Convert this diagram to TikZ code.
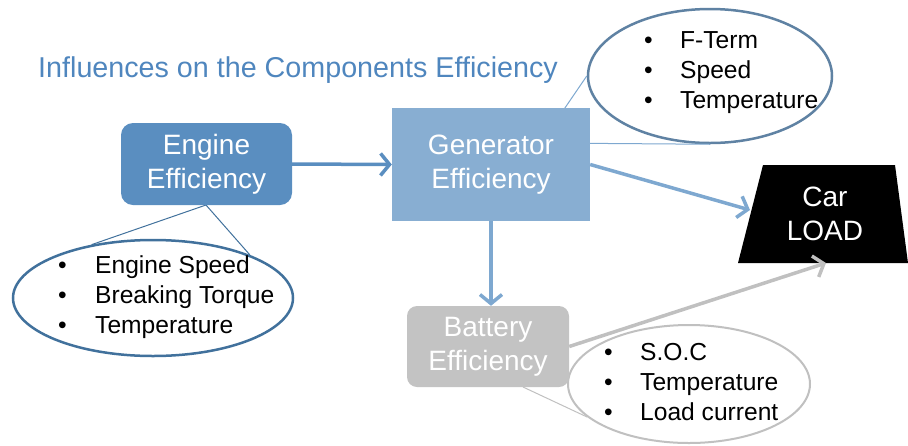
\documentclass[tikz,border=0pt]{standalone}
\usepackage{fontspec}
\setmainfont{Liberation Sans}
\usetikzlibrary{shapes.geometric, arrows.meta, calc}

\definecolor{engblue}{HTML}{5A8EC0}
\definecolor{genblue}{HTML}{88AED2}
\definecolor{batgray}{HTML}{C3C3C3}
\definecolor{titleblue}{HTML}{4F86BE}
\definecolor{darkline}{HTML}{41719C}
\definecolor{midline}{HTML}{5F82A3}
\definecolor{arrowblue}{HTML}{7EA8D0}
\definecolor{arrowgray}{HTML}{C0C0C0}

\begin{document}
\begin{tikzpicture}[x=1pt, y=-1pt,
    box/.style={rectangle, text=white, align=center, inner sep=0pt,
                font=\fontsize{28}{34}\selectfont},
    bubble/.style={ellipse, draw, line width=2.5pt, fill=white, inner sep=0pt},
    items/.style={anchor=west, align=left, inner sep=0pt,
                  font=\fontsize{24.6}{30}\selectfont},
    pointer/.style={line width=1pt},
    flow/.style={line width=3.5pt, -{Straight Barb[length=9pt, width=22pt]}}]
    \useasboundingbox (0,0) rectangle (908,445);

    % Title
    \node (title) [text=titleblue, font=\fontsize{28.7}{34}\selectfont] at (298,70)
        {Influences on the Components Efficiency};

    % Callouts (drawn first, the boxes cover their tips)
    \coordinate (gentip) at (541,143);
    \coordinate (battip) at (523,387);
    \node (engbubble) [bubble, draw=darkline, minimum width=280pt, minimum height=116pt] at (153,298) {};
    \node (genbubble) [bubble, draw=midline, minimum width=244pt, minimum height=134pt] at (710,76) {};
    \node (batbubble) [bubble, draw=arrowgray, line width=2pt, minimum width=242pt, minimum height=118pt] at (689,384) {};
    \draw[pointer, darkline] (206,205) -- (engbubble.139);
    \draw[pointer, darkline] (206,205) -- (engbubble.24);
    \draw[pointer, arrowblue] (gentip) -- (genbubble.180);
    \draw[pointer, arrowblue] (gentip) -- (genbubble.270);
    \draw[pointer, arrowgray] (battip) -- (batbubble.198);

    % Lists
    \node (englist) [items] at (58,297)
        {\makebox[37pt][l]{\textbullet}Engine Speed\\
         \makebox[37pt][l]{\textbullet}Breaking Torque\\
         \makebox[37pt][l]{\textbullet}Temperature};
    \node (genlist) [items] at (644,73)
        {\makebox[36pt][l]{\textbullet}F-Term\\
         \makebox[36pt][l]{\textbullet}Speed\\
         \makebox[36pt][l]{\textbullet}Temperature};
    \node (batlist) [items] at (604,382)
        {\makebox[36pt][l]{\textbullet}S.O.C\\
         \makebox[36pt][l]{\textbullet}Temperature\\
         \makebox[36pt][l]{\textbullet}Load current};

    % Nodes
    \node (engine) [box, fill=engblue, rounded corners=12pt, minimum width=171pt, minimum height=82pt] at (206.5,164) {Engine\\Efficiency};
    \node (gen) [box, fill=genblue, minimum width=198pt, minimum height=113pt] at (491,164.5) {Generator\\Efficiency};
    \node (bat) [box, fill=batgray, rounded corners=10pt, minimum width=162pt, minimum height=81pt] at (488,346.5) {Battery\\Efficiency};

    % Car load block
    \fill[black] (763,165) -- (895,165) -- (908,263) -- (738,263) -- cycle;
    \node (car) [box, minimum width=120pt, minimum height=98pt] at (825,214) {Car\\LOAD};
    \coordinate (carleft) at (750,210);
    \coordinate (carbottom) at (826,263);

    % Arrows
    \draw[flow, engblue] (engine.east) -- (gen.west);
    \draw[flow, arrowblue] (gen.east) -- (carleft);
    \draw[flow, arrowblue] (gen.south) -- (gen.south |- bat.north);
    \draw[flow, arrowgray] (bat.east) -- (carbottom);
\end{tikzpicture}
\end{document}
